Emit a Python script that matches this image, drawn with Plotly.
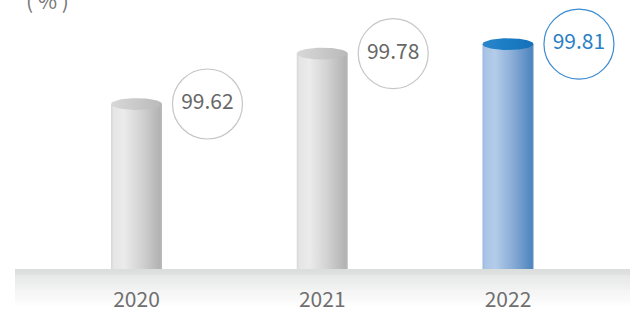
import numpy as np
import plotly.graph_objects as go

# ---- data ----
years = ["2020", "2021", "2022"]
values = [99.62, 99.78, 99.81]
unit_label = "( % )"

# ---- styling ----
W, H = 630, 313
FONT = "Noto Sans CJK SC"
y_range = [99.0966, 99.950]
x_range = [-0.7349, 2.6568]
half_w = 0.1373
cap_ry = 0.0187
label_dx = 0.382

gray_body = [[0, "#d6d6d6"], [0.05, "#e5e5e5"], [0.25, "#ebebeb"], [0.6, "#d2d2d2"], [0.96, "#b2b2b2"], [1, "#bdbdbd"]]
blue_body = [[0, "#9ab8de"], [0.05, "#a9c5e6"], [0.25, "#b3cce9"], [0.6, "#88abd6"], [0.96, "#4f86bf"], [1, "#5c8fc5"]]
gray_cap = [[0, "#d8d8d8"], [0.5, "#c9c9c9"], [1, "#b9b9b9"]]
blue_cap = [[0, "#2a86cb"], [0.5, "#1a7cc4"], [1, "#1570b8"]]

fig = go.Figure()
t = np.linspace(0, 2 * np.pi, 80)
for i, (yr, v) in enumerate(zip(years, values)):
    hi = i == len(values) - 1
    body = blue_body if hi else gray_body
    cap = blue_cap if hi else gray_cap
    fig.add_trace(go.Scatter(
        x=[i - half_w, i + half_w, i + half_w, i - half_w, i - half_w],
        y=[y_range[0], y_range[0], v, v, y_range[0]],
        mode="lines", line=dict(width=0), fill="toself",
        fillgradient=dict(type="horizontal", colorscale=body),
        hoverinfo="skip"))
    fig.add_trace(go.Scatter(
        x=i + half_w * np.cos(t), y=v + cap_ry * np.sin(t),
        mode="lines", line=dict(width=0), fill="toself",
        fillgradient=dict(type="horizontal", colorscale=cap),
        hoverinfo="skip"))
    fig.add_trace(go.Scatter(
        x=[i + label_dx], y=[v], mode="markers+text",
        text=[f"{v:.2f}"], textposition="middle center",
        textfont=dict(family=FONT, size=21, color="#2a7fc3" if hi else "#676767"),
        marker=dict(size=70, color="white",
                    line=dict(color="#3b8bd0" if hi else "#c6c6c6", width=1.2)),
        cliponaxis=False, hoverinfo="skip"))

# floor gradient strips below the plot
shapes = []
n = 39
top_c = np.array([0xdc, 0xde, 0xdd])
bot_c = np.array([0xff, 0xff, 0xff])
plot_h = H - n
for k in range(n):
    f = k / (n - 1)
    c = (top_c + (bot_c - top_c) * f).astype(int)
    shapes.append(dict(type="rect", xref="paper", yref="paper",
                       x0=15 / W, x1=1, y0=-(k + 1) / plot_h, y1=-k / plot_h,
                       fillcolor=f"rgb({c[0]},{c[1]},{c[2]})", line=dict(width=0),
                       layer="below"))

fig.update_layout(
    width=W, height=H, margin=dict(l=0, r=0, t=0, b=n),
    paper_bgcolor="white", plot_bgcolor="rgba(0,0,0,0)",
    showlegend=False, shapes=shapes,
    xaxis=dict(range=x_range, tickvals=list(range(len(years))), ticktext=years,
               showgrid=False, zeroline=False, showline=False, ticks="",
               tickfont=dict(family=FONT, size=21, color="#6f6f6f"),
               ticklabelstandoff=16, fixedrange=True),
    yaxis=dict(range=y_range, visible=False, fixedrange=True),
    annotations=[dict(text=unit_label, x=47 / W, y=1, xref="paper", yref="paper",
                      xanchor="center", yanchor="middle", showarrow=False,
                      font=dict(family=FONT, size=21, color="#777777"))],
)

fig.write_html("out.html", config={"displayModeBar": False},
               post_script="document.body.style.margin='0';document.body.style.overflow='hidden';")
